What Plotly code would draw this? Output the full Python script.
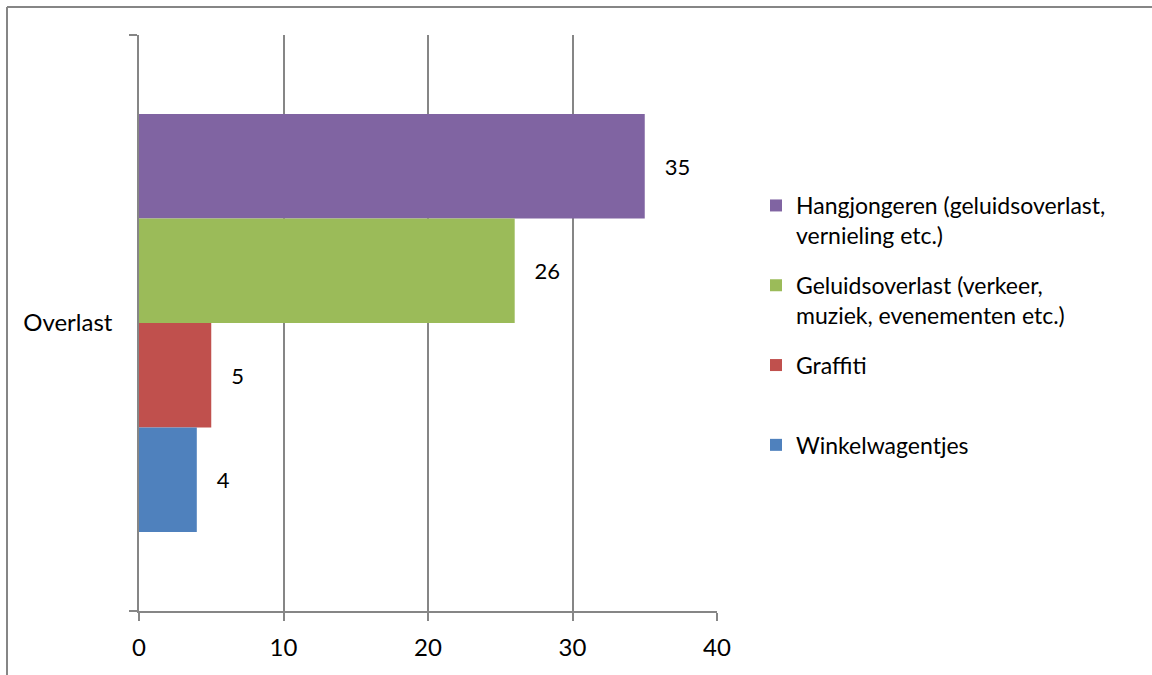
import plotly.graph_objects as go

# Survey result: nuisance types reported under "Overlast"
category = ["Overlast"]
series_names = [
    "Hangjongeren (geluidsoverlast,<br>vernieling etc.)",
    "Geluidsoverlast (verkeer,<br>muziek, evenementen etc.)",
    "Graffiti",
    "Winkelwagentjes",
]
series_values = [35, 26, 5, 4]
series_colors = ["#8064A2", "#9BBB59", "#C0504D", "#4F81BD"]
x_ticks = [0, 10, 20, 30, 40]

FONT = "Lato"
AXIS_GREY = "#868686"

fig = go.Figure()
for name, val, col in zip(series_names, series_values, series_colors):
    # pad single-line entries to two lines so legend rows are evenly spaced
    label = name if "<br>" in name else name + "<br> "
    fig.add_trace(go.Bar(
        y=category,
        x=[val],
        name=label,
        legendgroup=name,
        orientation="h",
        marker=dict(color=col, line=dict(width=0)),
        text=[val],
        texttemplate="\u00a0\u00a0\u00a0%{x}",
        textposition="outside",
        textfont=dict(family=FONT, size=22, color="#000000"),
        cliponaxis=False,
    ))

W, H = 1152, 675
L, R, T, B = 139, 435, 35, 64
pw, ph = W - L - R, H - T - B

def px_x(p):
    return (p - L) / pw

def px_y(p):
    return (H - B - p) / ph

fig.update_layout(
    width=W,
    height=H,
    margin=dict(l=L, r=R, t=T, b=B),
    paper_bgcolor="white",
    plot_bgcolor="white",
    barmode="group",
    bargap=0.274,
    bargroupgap=0,
    font=dict(family=FONT, size=23, color="#000000"),
    showlegend=True,
    legend=dict(
        x=px_x(756),
        y=px_y(184),
        xanchor="left",
        yanchor="top",
        traceorder="grouped",
        valign="top",
        tracegroupgap=17,
        font=dict(family=FONT, size=23, color="#000000"),
        bgcolor="rgba(0,0,0,0)",
    ),
    xaxis=dict(
        range=[0, 40],
        tickvals=x_ticks,
        showgrid=True,
        gridcolor=AXIS_GREY,
        gridwidth=1.5,
        zeroline=False,
        showline=True,
        linecolor=AXIS_GREY,
        linewidth=1.5,
        ticks="outside",
        ticklen=8,
        tickcolor=AXIS_GREY,
        tickwidth=1.5,
        ticklabelstandoff=6,
        tickfont=dict(family=FONT, size=24, color="#000000"),
        fixedrange=True,
    ),
    yaxis=dict(
        type="category",
        autorange="reversed",
        showgrid=False,
        zeroline=False,
        showline=True,
        linecolor=AXIS_GREY,
        linewidth=1.5,
        ticks="outside",
        tickson="boundaries",
        ticklen=8,
        tickcolor=AXIS_GREY,
        tickwidth=1.5,
        ticklabelstandoff=20,
        tickfont=dict(family=FONT, size=24, color="#000000"),
        fixedrange=True,
    ),
    shapes=[
        dict(type="line", xref="paper", yref="paper",
             x0=px_x(7), x1=px_x(W + 5), y0=px_y(7), y1=px_y(7),
             line=dict(color=AXIS_GREY, width=2)),
        dict(type="line", xref="paper", yref="paper",
             x0=px_x(7), x1=px_x(7), y0=px_y(7), y1=px_y(H + 5),
             line=dict(color=AXIS_GREY, width=2)),
    ],
)

fig.write_html("out.html")
